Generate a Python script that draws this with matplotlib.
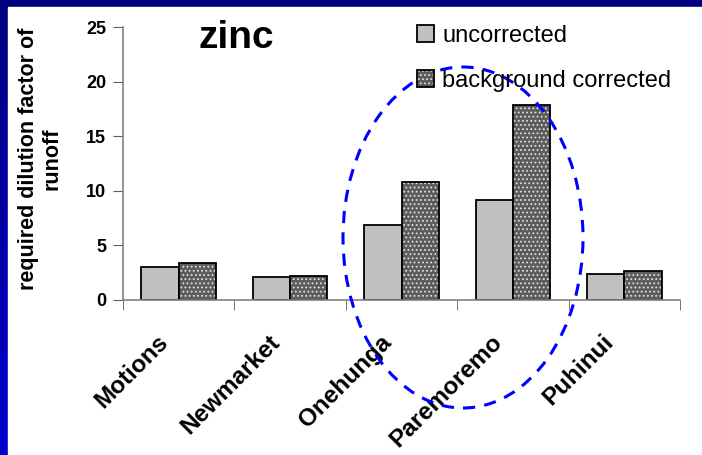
import matplotlib
matplotlib.use('Agg')
import matplotlib.pyplot as plt
import numpy as np
from matplotlib.patches import Ellipse, Rectangle
from matplotlib.transforms import ScaledTranslation

plt.rcParams['font.family'] = ['Liberation Sans', 'DejaVu Sans']
plt.rcParams['hatch.linewidth'] = 0.8

sites = ["Motions", "Newmarket", "Onehunga", "Paremoremo", "Puhinui"]
uncorrected = [2.95, 2.05, 6.85, 9.1, 2.35]
bg_corrected = [3.35, 2.2, 10.75, 17.9, 2.6]
yticks = [0, 5, 10, 15, 20, 25]

W, H = 702, 455
fig = plt.figure(figsize=(W / 100, H / 100), dpi=100)

# blue gradient backdrop with white panel
bg = fig.add_axes([0, 0, 1, 1], zorder=-10)
grad = np.linspace(0, 1, 256).reshape(-1, 1)
top = np.array([0, 0, 0x80]) / 255
bot = np.array([0, 0, 0xd0]) / 255
img = top + (bot - top) * grad[:, :, None]
bg.imshow(img, aspect='auto', extent=[0, 1, 0, 1])
bg.add_patch(Rectangle((8 / W, 0), 1, 1 - 7 / H, color='white'))
bg.set_xlim(0, 1)
bg.set_ylim(0, 1)
bg.axis('off')

x0, x1 = 123, 680
y0, y1 = 299.5, 27.3
ax = fig.add_axes([x0 / W, 1 - y0 / H, (x1 - x0) / W, (y0 - y1) / H])
ax.set_facecolor('none')

x = np.arange(len(sites))
bw = 0.335
b1 = ax.bar(x - bw / 2, uncorrected, bw, color='#c0c0c0', edgecolor='black', lw=1.3)
# hatched fill first, then black outline on top
b2 = ax.bar(x + bw / 2, bg_corrected, bw, color='#5c5c5c', edgecolor='#e0e0e0',
            lw=0, hatch='....')
b3 = ax.bar(x + bw / 2, bg_corrected, bw, fill=False, edgecolor='black', lw=1.3)

ax.set_xlim(-0.5, len(sites) - 0.5)
ax.set_ylim(0, 25)
ax.set_yticks(yticks)
ax.set_yticklabels([str(v) for v in yticks], fontsize=13, fontweight='bold')

# category labels placed by hand below the axis, ticks at the category edges
ax.set_xticks([])
ax.set_xticks(np.arange(len(sites) + 1) - 0.5, minor=True)
ax.tick_params(axis='x', which='minor', length=7, color='#606060')
shift = ScaledTranslation(-22 / 100, -31 / 100, fig.dpi_scale_trans)
for i, name in enumerate(sites):
    ax.text(x[i], 0, name, transform=ax.get_xaxis_transform() + shift,
            fontsize=17.5, fontweight='bold', rotation=45, ha='right', va='top',
            rotation_mode='anchor')

ax.tick_params(axis='y', length=7, color='#606060', pad=5)
for s in ['top', 'right']:
    ax.spines[s].set_visible(False)
for s in ['left', 'bottom']:
    ax.spines[s].set_color('#808080')
    ax.spines[s].set_linewidth(1.2)

ax.set_ylabel('required dilution factor of\nrunoff', fontsize=15.5,
              fontweight='bold', linespacing=1.2)
ax.yaxis.set_label_coords(-60 / (x1 - x0), (y0 - 159) / (y0 - y1))

fig.text(236 / W, 1 - 48 / H, 'zinc', fontsize=28, fontweight='bold',
         ha='center', va='baseline')

ax.legend([b1[0], (b2[0], b3[0])], ['uncorrected', 'background corrected'],
          loc='upper left', bbox_to_anchor=(417 / W, 1 - 24.5 / H),
          bbox_transform=fig.transFigure, frameon=False, fontsize=17,
          handlelength=0.72, handleheight=0.72, handletextpad=0.34,
          labelspacing=1.0, borderaxespad=0, borderpad=0)

# dashed ellipse highlighting Onehunga / Paremoremo
px = (x1 - x0) / len(sites)
py = (y0 - y1) / 25
cx = (463 - x0) / px - 0.5
cy = (y0 - 237.5) / py
ax.add_patch(Ellipse((cx, cy), 240 / px, 341 / py, fill=False,
                     edgecolor='#0000ff', lw=2.2, ls=(0, (4, 3)), clip_on=False,
                     zorder=5))

fig.savefig('out.png', dpi=100)
